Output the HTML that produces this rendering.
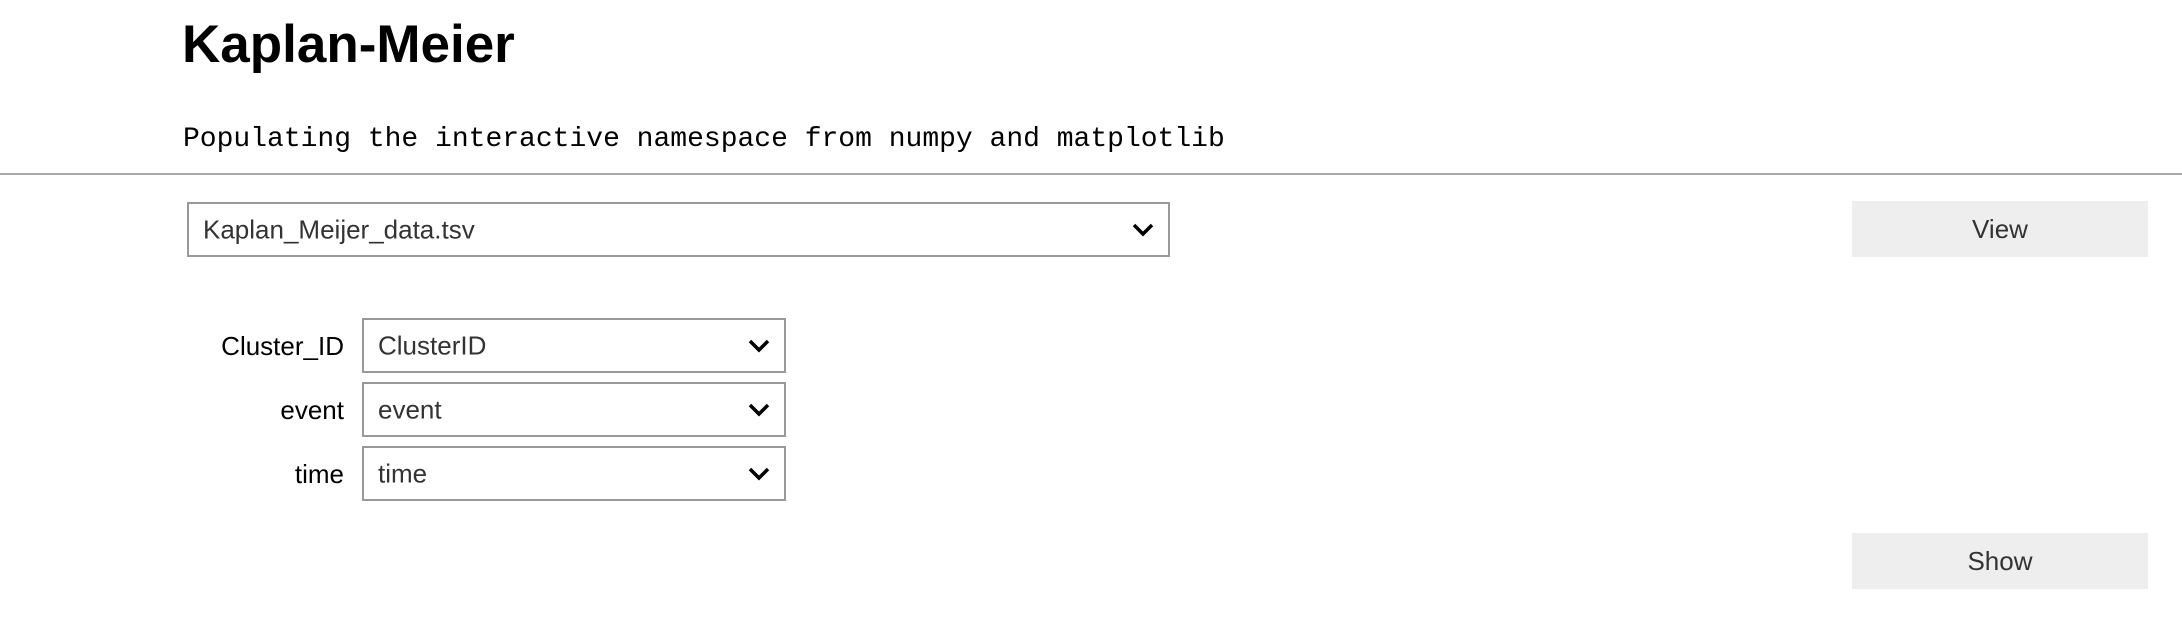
<!DOCTYPE html>
<html><head><meta charset="utf-8"><style>
body{margin:0;width:2182px;height:623px;background:#fff;position:relative;font-family:"Liberation Sans",Arial,sans-serif;overflow:hidden}
.a{position:absolute}
h1{position:absolute;left:182px;top:15px;margin:0;font-size:53px;font-weight:bold;line-height:60px}
.mono{left:183px;top:122px;font-family:"Liberation Mono",monospace;font-size:28px;line-height:36px;white-space:pre;color:#000}
.hr{left:0;top:173px;width:2182px;height:2px;background:#aaa}
.sel{position:absolute;border:2px solid #999;box-sizing:border-box;background:#fff;color:#333;font-size:26px}
.sel span{position:absolute;left:14px;top:50%;transform:translateY(-50%)}
.sel svg{position:absolute;right:14px;top:50%;margin-top:-7px}
.lbl{position:absolute;right:1838px;font-size:26px;color:#000}
.btn{position:absolute;left:1852px;width:296px;height:56px;background:#eee;color:#333;font-size:26px;text-align:center;line-height:56px}
</style></head><body>
<h1>Kaplan-Meier</h1>
<div class="a mono">Populating the interactive namespace from numpy and matplotlib</div>
<div class="a hr"></div>
<div class="sel" style="left:187px;top:202px;width:983px;height:55px"><span>Kaplan_Meijer_data.tsv</span><svg width="22" height="14"><polyline points="2,2 11,11 20,2" fill="none" stroke="#000" stroke-width="3.5"/></svg></div>
<div class="btn" style="top:201px">View</div>
<div class="lbl" style="top:331px">Cluster_ID</div>
<div class="sel" style="left:362px;top:318px;width:424px;height:55px"><span>ClusterID</span><svg width="22" height="14"><polyline points="2,2 11,11 20,2" fill="none" stroke="#000" stroke-width="3.5"/></svg></div>
<div class="lbl" style="top:395px">event</div>
<div class="sel" style="left:362px;top:382px;width:424px;height:55px"><span>event</span><svg width="22" height="14"><polyline points="2,2 11,11 20,2" fill="none" stroke="#000" stroke-width="3.5"/></svg></div>
<div class="lbl" style="top:459px">time</div>
<div class="sel" style="left:362px;top:446px;width:424px;height:55px"><span>time</span><svg width="22" height="14"><polyline points="2,2 11,11 20,2" fill="none" stroke="#000" stroke-width="3.5"/></svg></div>
<div class="btn" style="top:533px">Show</div>
</body></html>
